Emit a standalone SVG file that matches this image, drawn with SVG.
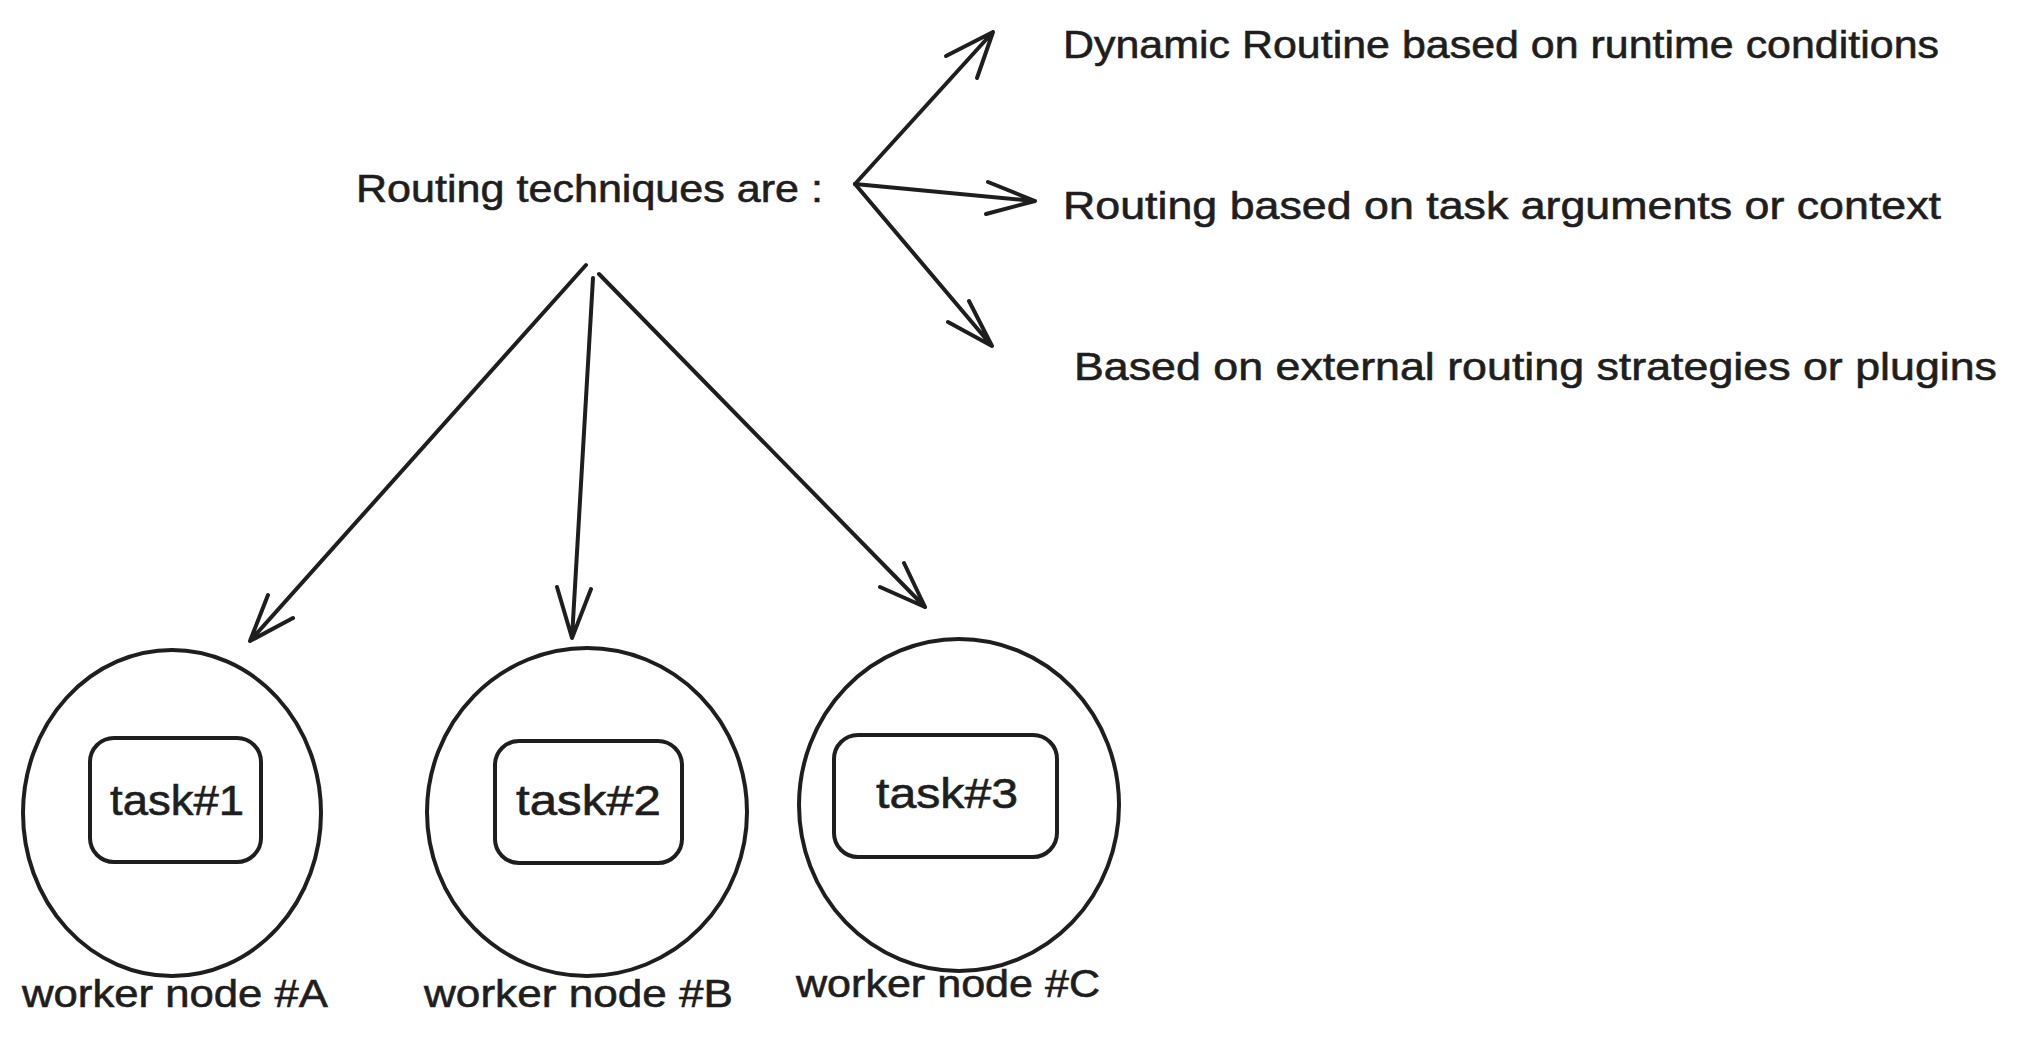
<svg xmlns="http://www.w3.org/2000/svg" width="2017" height="1042" viewBox="0 0 2017 1042">
<style>
.t{font-family:"Liberation Sans",Arial,sans-serif;fill:#1e1e1e;stroke:#1e1e1e;stroke-width:0.6;font-size:39px}
.k{font-size:42px}
.s{fill:none;stroke:#1e1e1e;stroke-width:4;stroke-linecap:round;stroke-linejoin:round}
</style>
<rect width="2017" height="1042" fill="#ffffff"/>
<g id="title"><text class="t" x="356" y="202" textLength="467" lengthAdjust="spacingAndGlyphs">Routing techniques are :</text></g>
<g id="opt1"><text class="t" x="1063" y="58" textLength="876" lengthAdjust="spacingAndGlyphs">Dynamic Routine based on runtime conditions</text></g>
<g id="opt2"><text class="t" x="1063" y="219" textLength="878" lengthAdjust="spacingAndGlyphs">Routing based on task arguments or context</text></g>
<g id="opt3"><text class="t" x="1074" y="380" textLength="923" lengthAdjust="spacingAndGlyphs">Based on external routing strategies or plugins</text></g>
<g id="nodeA">
<ellipse class="s" cx="172" cy="813" rx="149" ry="163"/>
<rect class="s" x="90" y="738" width="171" height="124" rx="24"/>
<text class="t k" x="110" y="815" textLength="134" lengthAdjust="spacingAndGlyphs">task#1</text>
<text class="t" x="22" y="1007" textLength="306" lengthAdjust="spacingAndGlyphs">worker node #A</text>
</g>
<g id="nodeB">
<ellipse class="s" cx="587" cy="812" rx="160" ry="164"/>
<rect class="s" x="495" y="741" width="187" height="122" rx="24"/>
<text class="t k" x="516" y="815" textLength="145" lengthAdjust="spacingAndGlyphs">task#2</text>
<text class="t" x="424" y="1007" textLength="309" lengthAdjust="spacingAndGlyphs">worker node #B</text>
</g>
<g id="nodeC">
<ellipse class="s" cx="959" cy="805" rx="160" ry="166"/>
<rect class="s" x="834" y="735" width="223" height="122" rx="24"/>
<text class="t k" x="876" y="808" textLength="142" lengthAdjust="spacingAndGlyphs">task#3</text>
<text class="t" x="796" y="997" textLength="304" lengthAdjust="spacingAndGlyphs">worker node #C</text>
</g>
<g id="connectors">
<path class="s" d="M855 184 L993 32 M946 56 L993 32 L977 78"/>
<path class="s" d="M855 184 L1035 201 M988 182 L1035 201 L986 214"/>
<path class="s" d="M855 184 L992 346 M948 322 L992 346 L969 301"/>
<path class="s" d="M586 265 L250 641 M268 595 L250 641 L293 618"/>
<path class="s" d="M593 278 L572 638 M557 587 L572 638 L591 589"/>
<path class="s" d="M599 274 L925 607 M904 563 L925 607 L880 587"/>
</g>
</svg>
